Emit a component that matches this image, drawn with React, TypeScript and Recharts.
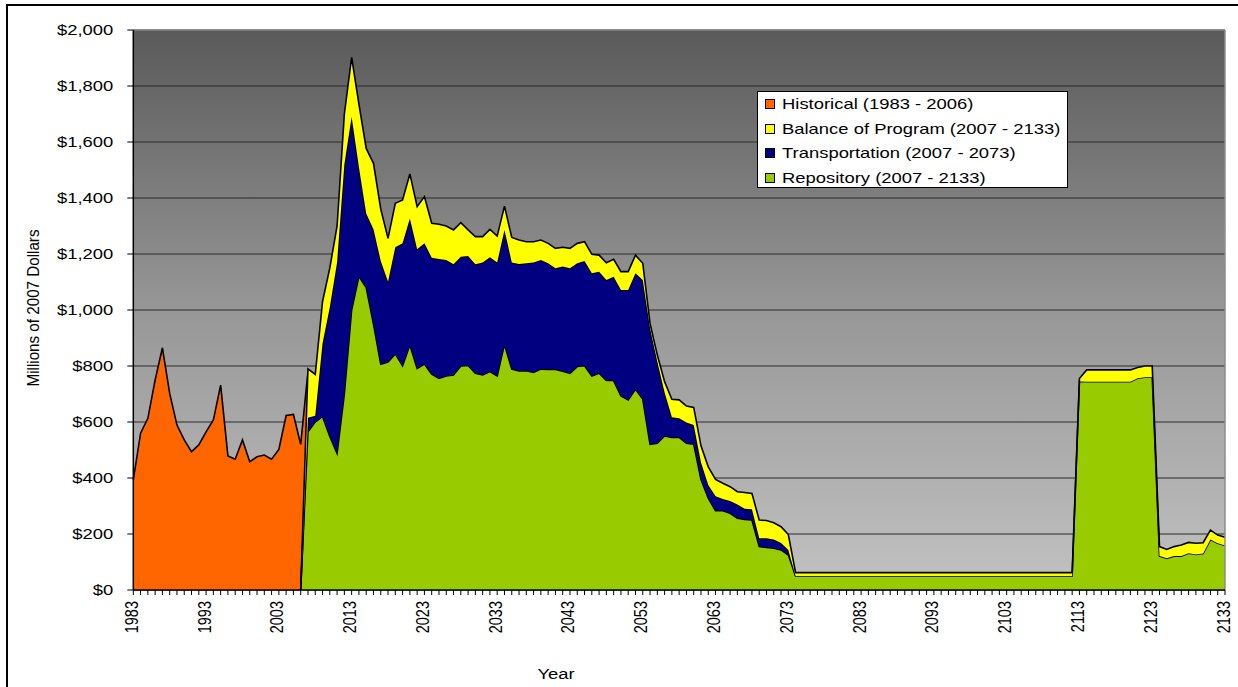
import React from "react";
import {
  AreaChart, Area,
  XAxis, YAxis, CartesianGrid,
  Legend, Label, ReferenceLine,
} from "recharts";

const FONT = '"Liberation Sans", Arial, sans-serif';
const STRETCH = 1.27; // the original picture is a bit wider than tall

const FIRST_YEAR = 1983;
const LAST_YEAR = 2133;
const PROGRAM_START = 2006; // stacked series start from zero here

// Millions of 2007 dollars, 1983..2007
const historical = [
  393, 560, 613, 750, 865, 702, 589, 536, 494, 518,
  565, 607, 732, 479, 467, 536, 458, 476, 482, 467,
  502, 623, 627, 520, 780,
];

// 2006..2133
const repository = [
  0, 565, 600, 620, 548, 488, 700, 1000, 1120, 1080,
  950, 806, 814, 843, 800, 875, 791, 807, 771, 756,
  764, 768, 800, 802, 774, 768, 780, 764, 877, 789,
  782, 783, 777, 789, 788, 788, 781, 774, 798, 801,
  764, 774, 748, 748, 693, 679, 717, 682, 520, 524,
  550, 545, 545, 524, 521, 395, 328, 283, 283, 274,
  256, 252, 250, 155, 152, 149, 143, 125, 50, 50,
  50, 50, 50, 50, 50, 50, 50, 50, 50, 50,
  50, 50, 50, 50, 50, 50, 50, 50, 50, 50,
  50, 50, 50, 50, 50, 50, 50, 50, 50, 50,
  50, 50, 50, 50, 50, 50, 50, 745, 744, 744,
  744, 744, 744, 744, 744, 756, 760, 760, 121, 113,
  121, 121, 131, 127, 130, 180, 167, 159,
];

// 2006..2074
const transportation = [
  0, 50, 22, 260, 462, 682, 820, 690, 390, 265,
  338, 369, 287, 381, 438, 452, 426, 431, 416, 426,
  415, 395, 390, 391, 389, 402, 408, 406, 409, 381,
  382, 384, 393, 390, 379, 361, 374, 375, 369, 374,
  367, 363, 359, 371, 378, 392, 414, 425, 415, 291,
  155, 72, 68, 74, 68, 60, 47, 52, 42, 44,
  49, 38, 38, 30, 33, 31, 25, 18, 0,
];

// 2006..2133
const balance = [
  0, 175, 148, 150, 140, 130, 180, 212, 225, 232,
  236, 185, 155, 157, 155, 159, 152, 167, 123, 124,
  121, 123, 122, 93, 99, 92, 100, 94, 85, 89,
  86, 77, 74, 71, 71, 71, 69, 71, 71, 69,
  68, 59, 62, 62, 66, 66, 65, 60, 17, 24,
  39, 64, 66, 59, 63, 60, 65, 60, 56, 51,
  46, 58, 57, 65, 63, 60, 58, 55, 12, 12,
  12, 12, 12, 12, 12, 12, 12, 12, 12, 12,
  12, 12, 12, 12, 12, 12, 12, 12, 12, 12,
  12, 12, 12, 12, 12, 12, 12, 12, 12, 12,
  12, 12, 12, 12, 12, 12, 12, 10, 42, 42,
  42, 42, 42, 42, 42, 39, 40, 40, 34, 32,
  34, 40, 39, 40, 39, 34, 29, 29,
];

const Y_TICKS = [0, 200, 400, 600, 800, 1000, 1200, 1400, 1600, 1800, 2000];
const LABEL_YEARS = [1983, 1993, 2003, 2013, 2023, 2033, 2043, 2053, 2063, 2073, 2083, 2093, 2103, 2113, 2123, 2133];

const LEGEND = [
  { label: "Historical (1983 - 2006)", color: "#FF6600" },
  { label: "Balance of Program (2007 - 2133)", color: "#FFFF00" },
  { label: "Transportation (2007 - 2073)", color: "#000080" },
  { label: "Repository (2007 - 2133)", color: "#99CC00" },
];

const data: any[] = [];
for (let year = FIRST_YEAR; year <= LAST_YEAR; year++) {
  const h = year - FIRST_YEAR;
  const p = year - PROGRAM_START;
  data.push({
    year,
    historical: historical[h] ?? null,
    repository: p >= 0 ? repository[p] ?? null : null,
    transportation: p >= 0 ? transportation[p] ?? null : null,
    balance: p >= 0 ? balance[p] ?? null : null,
  });
}

function YearTick({ x, y, payload }: any) {
  if (!LABEL_YEARS.includes(payload.value)) return <g />;
  return (
    <text
      transform={`translate(${x + 4.5},${y + 4}) scale(${STRETCH},1) rotate(-90)`}
      textAnchor="end" fontSize={14.5} fontFamily={FONT} fill="#000"
    >
      {payload.value}
    </text>
  );
}

function MoneyTick({ x, y, payload }: any) {
  return (
    <text
      transform={`translate(${x},${y + 5}) scale(${STRETCH},1)`}
      textAnchor="end" fontSize={14.5} fontFamily={FONT} fill="#000"
    >
      {"$" + Number(payload.value).toLocaleString("en-US")}
    </text>
  );
}

function LegendBox() {
  return (
    <div style={{ background: "#fff", border: "1px solid #000", width: 309, height: 95, fontFamily: FONT }}>
      {LEGEND.map((it) => (
        <div key={it.label} style={{ height: 24.5, display: "flex", alignItems: "center", paddingLeft: 7 }}>
          <span style={{ width: 8, height: 8, border: "1px solid #000", background: it.color, display: "inline-block" }} />
          <span style={{ marginLeft: 7, fontSize: 14.5, color: "#000", display: "inline-block", transform: `scaleX(${STRETCH})`, transformOrigin: "left center", whiteSpace: "nowrap" }}>
            {it.label}
          </span>
        </div>
      ))}
    </div>
  );
}

export default function App() {
  return (
    <div style={{ position: "absolute", left: 0, top: 0, width: 1238, height: 687, overflow: "hidden", background: "#fff" }}>
      <div style={{ position: "absolute", left: 6, top: 4, width: 1400, height: 900, border: "2px solid #000" }} />
      <div style={{ position: "absolute", left: 0, top: 0 }}>
        <AreaChart width={1238} height={687} data={data} margin={{ top: 30, right: 13, bottom: 0, left: 0 }}>
          <defs>
            <linearGradient id="plotBg" x1="0" y1="0" x2="0" y2="1">
              <stop offset="0%" stopColor="#5a5a5a" />
              <stop offset="50%" stopColor="#979797" />
              <stop offset="100%" stopColor="#c2c2c2" />
            </linearGradient>
          </defs>
          <CartesianGrid vertical={false} fill="url(#plotBg)" fillOpacity={1} stroke="#2a2a2a" strokeWidth={1} />
          <XAxis
            dataKey="year" interval={0} height={97} tickSize={5}
            tick={<YearTick />} tickLine={{ stroke: "#000" }}
            axisLine={{ stroke: "#000", strokeWidth: 1.5 }}
          >
            <Label content={() => (
              <text transform={`translate(556,679) scale(${STRETCH},1)`} textAnchor="middle" fontSize={14.5} fontFamily={FONT} fill="#000">Year</text>
            )} />
          </XAxis>
          <YAxis
            type="number" domain={[0, 2000]} ticks={Y_TICKS} interval={0} width={133.3}
            tickSize={6} tickMargin={14} tick={<MoneyTick />}
            tickLine={{ stroke: "#000" }} axisLine={{ stroke: "#000", strokeWidth: 1.5 }}
          >
            <Label content={() => (
              <text transform={`translate(39,308) scale(${STRETCH},1) rotate(-90)`} textAnchor="middle" fontSize={13} fontFamily={FONT} fill="#000" textLength={157} lengthAdjust="spacingAndGlyphs">Millions of 2007 Dollars</text>
            )} />
          </YAxis>
          <ReferenceLine y={2000} stroke="#8c8c8c" strokeWidth={1.5} />
          <ReferenceLine x={2133} stroke="#8c8c8c" strokeWidth={1.5} />
          <Area dataKey="historical" type="linear" fill="#FF6600" fillOpacity={1} stroke="#000" strokeWidth={1.6} dot={false} activeDot={false} isAnimationActive={false} />
          <Area dataKey="repository" stackId="p" type="linear" fill="#99CC00" fillOpacity={1} stroke="#000" strokeWidth={1.6} dot={false} activeDot={false} isAnimationActive={false} />
          <Area dataKey="transportation" stackId="p" type="linear" fill="#000080" fillOpacity={1} stroke="#000" strokeWidth={1.6} dot={false} activeDot={false} isAnimationActive={false} />
          <Area dataKey="balance" stackId="p" type="linear" fill="#FFFF00" fillOpacity={1} stroke="#000" strokeWidth={1.6} dot={false} activeDot={false} isAnimationActive={false} />
          <Legend
            layout="vertical" align="center" verticalAlign="middle"
            wrapperStyle={{ position: "absolute", left: 757, top: 91, width: 311, height: 97 }}
            content={() => <LegendBox />}
          />
        </AreaChart>
      </div>
    </div>
  );
}
